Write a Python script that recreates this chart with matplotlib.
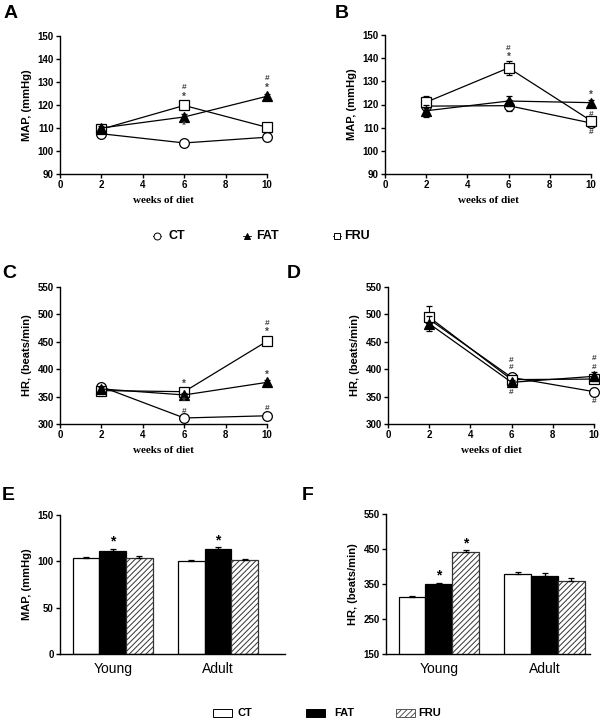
import matplotlib
matplotlib.use("Agg")
import matplotlib.pyplot as plt
import numpy as np
from matplotlib.patches import Rectangle
from matplotlib.lines import Line2D

plt.rcParams['font.family'] = ['Liberation Sans', 'DejaVu Sans']
plt.rcParams['hatch.linewidth'] = 0.7

weeks = [2, 6, 10]

# Panel A: MAP young (mmHg)
A_ct = [107.5, 103.5, 106.0]
A_fat = [110.0, 114.8, 123.8]
A_fru = [109.5, 119.8, 110.3]
A_ct_err = [1.0, 0.8, 1.0]
A_fat_err = [1.0, 1.5, 1.2]
A_fru_err = [1.5, 1.5, 1.0]

# Panel B: MAP adult (mmHg)
B_ct = [119.3, 119.5, 112.0]
B_fat = [117.3, 121.5, 120.8]
B_fru = [121.0, 135.8, 113.0]
B_ct_err = [1.5, 2.5, 1.0]
B_fat_err = [2.5, 2.0, 1.0]
B_fru_err = [2.5, 3.0, 1.5]

# Panel C: HR young (beats/min)
C_ct = [368, 311, 315]
C_fat = [364, 353, 376]
C_fru = [361, 359, 451]
C_ct_err = [4, 3, 4]
C_fat_err = [4, 4, 4]
C_fru_err = [4, 4, 4]

# Panel D: HR adult (beats/min)
D_ct = [491, 385, 359]
D_fat = [483, 376, 387]
D_fru = [495, 381, 382]
D_ct_err = [12, 5, 6]
D_fat_err = [14, 5, 8]
D_fru_err = [20, 5, 8]

# Panel E / F: bar charts
groups = ['Young', 'Adult']
E_ct = [103.3, 100.6]
E_fat = [111.2, 113.5]
E_fru = [103.8, 101.2]
E_ct_err = [1.0, 1.2]
E_fat_err = [2.5, 2.0]
E_fru_err = [1.5, 0.8]

F_ct = [313, 378]
F_fat = [351, 372]
F_fru = [441, 360]
F_ct_err = [3, 5]
F_fat_err = [3, 10]
F_fru_err = [5, 8]

fig = plt.figure(figsize=(6, 7.22), dpi=100)
W, H = 600, 722


def add_ax(x0, y0, x1, y1):
    return fig.add_axes([x0 / W, 1 - y1 / H, (x1 - x0) / W, (y1 - y0) / H])


def style(ax):
    for s in ['top', 'right']:
        ax.spines[s].set_visible(False)
    for s in ['left', 'bottom']:
        ax.spines[s].set_linewidth(1.0)
    ax.tick_params(direction='out', length=3, width=1.0, labelsize=7, pad=1.5)
    for lab in ax.get_xticklabels() + ax.get_yticklabels():
        lab.set_fontweight('bold')


def line_panel(ax, ct, fat, fru, cte, fate, frue, ylim, yticks, ylabel):
    kw = dict(color='black', lw=0.9, capsize=2.5, elinewidth=0.8, capthick=0.8, clip_on=False)
    ax.errorbar(weeks, ct, yerr=cte, marker='o', ms=7, mfc='white', mec='black', mew=0.9, zorder=3, **kw)
    ax.errorbar(weeks, fru, yerr=frue, marker='s', ms=7, mfc='white', mec='black', mew=0.9, zorder=4, **kw)
    ax.errorbar(weeks, fat, yerr=fate, marker='^', ms=7, mfc='black', mec='black', mew=0.9, zorder=5, **kw)
    ax.set_xlim(0, 10)
    ax.set_xticks([0, 2, 4, 6, 8, 10])
    ax.set_ylim(*ylim)
    ax.set_yticks(yticks)
    ax.set_xlabel('weeks of diet', family=['Liberation Serif', 'DejaVu Serif'],
                  fontweight='bold', fontsize=8, labelpad=4)
    ax.set_ylabel(ylabel, fontweight='bold', fontsize=8, labelpad=4)
    style(ax)


def marks(ax, series, items):
    # items: (index, symbol, offset in pixels)
    for idx, sym, dy in items:
        ax.annotate(sym, (weeks[idx], series[idx]), xytext=(0, dy), textcoords='offset pixels',
                    ha='center', va='center', fontsize=6 if sym == '#' else 7,
                    color='#444444', fontweight='bold', annotation_clip=False, zorder=6)


# Panel A
axA = add_ax(60, 36, 267, 174)
line_panel(axA, A_ct, A_fat, A_fru, A_ct_err, A_fat_err, A_fru_err, (90, 150),
           range(90, 151, 10), 'MAP, (mmHg)')
marks(axA, A_fru, [(1, '*', 9), (1, '#', 18)])
marks(axA, A_fat, [(1, '*', -9), (2, '*', 8), (2, '#', 18)])

# Panel B
axB = add_ax(385, 35, 591, 174)
line_panel(axB, B_ct, B_fat, B_fru, B_ct_err, B_fat_err, B_fru_err, (90, 150),
           range(90, 151, 10), 'MAP, (mmHg)')
marks(axB, B_fru, [(1, '*', 11), (1, '#', 19), (2, '#', 6)])
marks(axB, B_fat, [(2, '*', 8)])
marks(axB, B_ct, [(2, '#', -9)])

# Panel C
axC = add_ax(60, 287, 267, 424)
line_panel(axC, C_ct, C_fat, C_fru, C_ct_err, C_fat_err, C_fru_err, (300, 550),
           range(300, 551, 50), 'HR, (beats/min)')
marks(axC, C_fru, [(1, '*', 8), (2, '*', 9), (2, '#', 18)])
marks(axC, C_fat, [(1, '*', -7), (2, '*', 8)])
marks(axC, C_ct, [(1, '#', 6), (2, '#', 7)])

# Panel D
axD = add_ax(388, 287, 594, 424)
line_panel(axD, D_ct, D_fat, D_fru, D_ct_err, D_fat_err, D_fru_err, (300, 550),
           range(300, 551, 50), 'HR, (beats/min)')
marks(axD, D_ct, [(1, '#', 10), (1, '#', 17), (2, '#', -10)])
marks(axD, D_fat, [(1, '#', -10), (2, '#', 9), (2, '#', 18)])


def bar_panel(ax, ct, fat, fru, cte, fate, frue, ylim, yticks, ylabel, stars):
    x = np.arange(len(groups))
    w = 0.253
    ekw = dict(ecolor='black', elinewidth=0.9, capsize=2.5, capthick=0.9)
    ax.bar(x - w, ct, w, color='white', edgecolor='black', lw=0.9,
           yerr=[np.zeros(len(cte)), cte], error_kw=ekw)
    ax.bar(x, fat, w, color='black', edgecolor='black', lw=0.9,
           yerr=[np.zeros(len(fate)), fate], error_kw=ekw)
    ax.bar(x + w, fru, w, color='white', edgecolor='#333333', hatch='//////', lw=0.9,
           yerr=[np.zeros(len(frue)), frue], error_kw=ekw)
    for gi, si in stars:
        vals = [ct, fat, fru][si]
        errs = [cte, fate, frue][si]
        ax.annotate('*', ((gi + (si - 1) * w), vals[gi] + errs[gi]), xytext=(0, 7),
                    textcoords='offset pixels', ha='center', va='center', fontsize=10,
                    fontweight='bold')
    ax.set_ylim(*ylim)
    ax.set_yticks(yticks)
    ax.set_xticks(x)
    ax.set_xticklabels(groups)
    ax.set_ylabel(ylabel, fontweight='bold', fontsize=8, labelpad=4)
    style(ax)
    ax.tick_params(axis='x', length=0, labelsize=10, pad=6)
    for lab in ax.get_xticklabels():
        lab.set_fontweight('normal')


axE = add_ax(60, 515, 285, 654)
bar_panel(axE, E_ct, E_fat, E_fru, E_ct_err, E_fat_err, E_fru_err, (0, 150),
          [0, 50, 100, 150], 'MAP, (mmHg)', [(0, 1), (1, 1)])
axE.set_xlim(-0.5, 1.635)

axF = add_ax(386, 514, 590, 654)
bar_panel(axF, F_ct, F_fat, F_fru, F_ct_err, F_fat_err, F_fru_err, (150, 550),
          [150, 250, 350, 450, 550], 'HR, (beats/min)', [(0, 1), (0, 2)])
axF.set_xlim(-0.5, 1.43)

# Panel letters
for lab, (px, py) in {'A': (4, 14), 'B': (335, 14), 'C': (2, 274), 'D': (287, 274),
                      'E': (2, 495), 'F': (302, 495)}.items():
    fig.text(px / W, 1 - py / H, lab, fontsize=14, fontweight='bold', va='center', ha='left')

# Top legend (line panels)
yl = 1 - 236 / H
for mk, mfc, lx, tx, name in [('o', 'white', 157, 168, 'CT'), ('^', 'black', 247, 256, 'FAT'),
                              ('s', 'white', 337, 344, 'FRU')]:
    fig.add_artist(Line2D([(lx - 4) / W, (lx + 4) / W], [yl, yl], color='black', lw=0.6))
    fig.add_artist(Line2D([lx / W], [yl], marker=mk, ms=5, mfc=mfc, mec='black', mew=0.7, ls='none'))
    fig.text(tx / W, yl, name, fontsize=9, fontweight='bold', va='center', ha='left')

# Bottom legend (bar panels)
yb = 1 - 713 / H
for fc, hatch, ec, bx, tx, name in [('white', None, 'black', 213, 238, 'CT'),
                                    ('black', None, 'black', 306, 334, 'FAT'),
                                    ('white', '//////', '#555555', 396, 418, 'FRU')]:
    fig.add_artist(Rectangle((bx / W, yb - 3.5 / H), 19 / W, 8 / H, facecolor=fc,
                             edgecolor=ec, hatch=hatch, lw=0.7, transform=fig.transFigure))
    fig.text(tx / W, yb, name, fontsize=8, fontweight='bold', va='center', ha='left')

fig.savefig('out.png', dpi=100)
